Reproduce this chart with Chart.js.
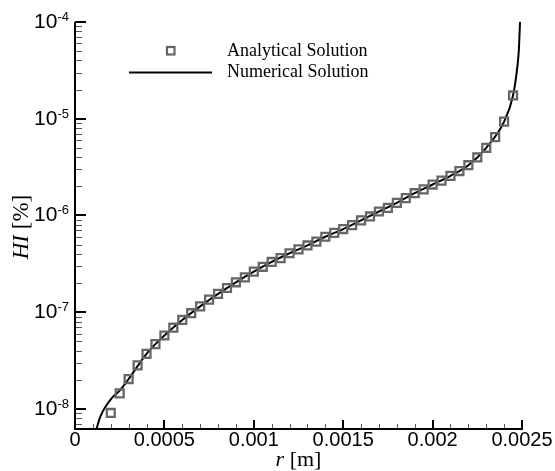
<!DOCTYPE html>
<html>
<head>
<meta charset="utf-8">
<script src="https://cdn.jsdelivr.net/npm/chart.js@4/dist/chart.umd.min.js"></script>
<style>
	body { margin: 0; background: #fff; }
	canvas { display: block; }
</style>
</head>
<body>
<canvas id="chart" width="555" height="471"></canvas>
<script>
// analytical solution
const analyticR = [
	0.0002, 0.00025, 0.0003, 0.00035, 0.0004, 0.00045, 0.0005, 0.00055, 0.0006, 0.00065,
	0.0007, 0.00075, 0.0008, 0.00085, 0.0009, 0.00095, 0.001, 0.00105, 0.0011, 0.00115,
	0.0012, 0.00125, 0.0013, 0.00135, 0.0014, 0.00145, 0.0015, 0.00155, 0.0016, 0.00165,
	0.0017, 0.00175, 0.0018, 0.00185, 0.0019, 0.00195, 0.002, 0.00205, 0.0021, 0.00215,
	0.0022, 0.00225, 0.0023, 0.00235, 0.0024, 0.00245
];
const analyticH = [
	9.1e-9, 1.45e-8, 2.04e-8, 2.82e-8, 3.72e-8, 4.68e-8, 5.75e-8, 6.92e-8, 8.32e-8, 9.77e-8,
	1.15e-7, 1.35e-7, 1.55e-7, 1.78e-7, 2.04e-7, 2.29e-7, 2.63e-7, 2.95e-7, 3.31e-7, 3.63e-7,
	4.07e-7, 4.47e-7, 4.90e-7, 5.37e-7, 6.03e-7, 6.61e-7, 7.24e-7, 7.94e-7, 8.91e-7, 9.77e-7,
	1.10e-6, 1.20e-6, 1.35e-6, 1.51e-6, 1.70e-6, 1.86e-6, 2.09e-6, 2.29e-6, 2.57e-6, 2.88e-6,
	3.31e-6, 3.98e-6, 5.01e-6, 6.46e-6, 9.33e-6, 1.74e-5
];

// numerical solution
const numericR = [
	0.00012, 0.00014, 0.00017, 0.0002, 0.00025, 0.0003, 0.0004, 0.0005, 0.0006, 0.0007,
	0.0008, 0.0009, 0.001, 0.0011, 0.0012, 0.0013, 0.0014, 0.0015, 0.0016, 0.0017,
	0.0018, 0.0019, 0.002, 0.0021, 0.0022, 0.0023, 0.0024, 0.00245, 0.00247, 0.002482, 0.002489
];
const numericH = [
	6.2e-9, 8.2e-9, 1.05e-8, 1.26e-8, 1.55e-8, 2.04e-8, 3.72e-8, 5.75e-8, 8.32e-8, 1.15e-7,
	1.55e-7, 2.04e-7, 2.63e-7, 3.31e-7, 4.07e-7, 4.90e-7, 6.03e-7, 7.24e-7, 8.91e-7, 1.10e-6,
	1.35e-6, 1.70e-6, 2.09e-6, 2.57e-6, 3.31e-6, 5.01e-6, 9.33e-6, 1.74e-5, 3.0e-5, 5.0e-5, 1.0e-4
];

const xTickVals = [0, 0.0005, 0.001, 0.0015, 0.002, 0.0025];
const xTickLabels = ["0", "0.0005", "0.001", "0.0015", "0.002", "0.0025"];
const yTickExps = [-8, -7, -6, -5, -4];
const yTickLabels = ["-8", "-7", "-6", "-5", "-4"];

const MARKER_GREY = "#666";

function pairs(xs, ys) {
	return xs.map((x, i) => ({x: x, y: ys[i]}));
}

// axes, inward ticks, labels and legend drawn on top using the chart scales
const axesPlugin = {
	id: "tecAxes",
	afterDraw(chart) {
		let ctx = chart.ctx;
		let a = chart.chartArea;
		let xs = chart.scales.x;
		let ys = chart.scales.y;

		ctx.save();

		// minor ticks
		ctx.lineWidth = 1;
		ctx.strokeStyle = "#555";
		ctx.beginPath();
		for (let e = -9; e <= -5; e++) {
			for (let m = 2; m <= 9; m++) {
				let v = m * Math.pow(10, e);
				if (v < ys.min || v > ys.max) continue;
				let py = Math.round(ys.getPixelForValue(v)) + 0.5;
				ctx.moveTo(a.left, py);
				ctx.lineTo(a.left + 7, py);
			}
		}
		for (let k = 1; k < 25; k++) {
			if (k % 5 === 0) continue;
			let px = Math.round(xs.getPixelForValue(k * 0.0001)) + 0.5;
			ctx.moveTo(px, a.bottom);
			ctx.lineTo(px, a.bottom - 5);
		}
		ctx.stroke();

		// major ticks and axis lines
		ctx.strokeStyle = "#000";
		ctx.lineWidth = 2;
		ctx.beginPath();
		for (let e of yTickExps) {
			let py = Math.round(ys.getPixelForValue(Math.pow(10, e)));
			ctx.moveTo(a.left, py);
			ctx.lineTo(a.left + 11, py);
		}
		for (let v of xTickVals) {
			let px = Math.round(xs.getPixelForValue(v));
			ctx.moveTo(px, a.bottom);
			ctx.lineTo(px, a.bottom - 9);
		}
		ctx.moveTo(a.left, a.top);
		ctx.lineTo(a.left, a.bottom);
		ctx.lineTo(a.right + 1, a.bottom);
		ctx.stroke();

		// x tick labels
		ctx.fillStyle = "#000";
		ctx.font = "20px 'Liberation Sans', Arial, sans-serif";
		ctx.textAlign = "center";
		ctx.textBaseline = "middle";
		xTickVals.forEach((v, i) => {
			ctx.fillText(xTickLabels[i], xs.getPixelForValue(v), a.bottom + 11);
		});

		// y tick labels: 10 with superscript exponent
		yTickExps.forEach((e, i) => {
			let py = ys.getPixelForValue(Math.pow(10, e));
			let right = 69;
			ctx.font = "13px 'Liberation Sans', Arial, sans-serif";
			ctx.textAlign = "right";
			ctx.textBaseline = "alphabetic";
			let w = ctx.measureText(yTickLabels[i]).width;
			ctx.fillText(yTickLabels[i], right, py - 1);
			ctx.font = "21px 'Liberation Sans', Arial, sans-serif";
			ctx.textBaseline = "middle";
			ctx.fillText("10", right - w, py);
		});

		// axis titles
		ctx.textBaseline = "middle";
		ctx.textAlign = "left";
		let tx = "r";
		let rest = " [m]";
		ctx.font = "italic 22px 'Liberation Serif', 'Times New Roman', serif";
		let w1 = ctx.measureText(tx).width;
		ctx.font = "22px 'Liberation Serif', 'Times New Roman', serif";
		let w2 = ctx.measureText(rest).width;
		let cx = (a.left + a.right) / 2 - (w1 + w2) / 2;
		ctx.font = "italic 22px 'Liberation Serif', 'Times New Roman', serif";
		ctx.fillText(tx, cx, 460);
		ctx.font = "22px 'Liberation Serif', 'Times New Roman', serif";
		ctx.fillText(rest, cx + w1, 460);

		ctx.save();
		ctx.translate(22, 227);
		ctx.rotate(-Math.PI / 2);
		ctx.font = "italic 23px 'Liberation Serif', 'Times New Roman', serif";
		let h1 = "HI";
		let h2 = " [%]";
		let wa = ctx.measureText(h1).width;
		ctx.font = "23px 'Liberation Serif', 'Times New Roman', serif";
		let wb = ctx.measureText(h2).width;
		let sx = -(wa + wb) / 2;
		ctx.font = "italic 23px 'Liberation Serif', 'Times New Roman', serif";
		ctx.fillText(h1, sx, 0);
		ctx.font = "23px 'Liberation Serif', 'Times New Roman', serif";
		ctx.fillText(h2, sx + wa, 0);
		ctx.restore();

		// legend
		ctx.strokeStyle = MARKER_GREY;
		ctx.lineWidth = 2.2;
		ctx.strokeRect(167, 47, 7.5, 7.5);
		ctx.strokeStyle = "#000";
		ctx.lineWidth = 2;
		ctx.beginPath();
		ctx.moveTo(129, 72.5);
		ctx.lineTo(212, 72.5);
		ctx.stroke();
		ctx.font = "18px 'Liberation Serif', 'Times New Roman', serif";
		ctx.textAlign = "left";
		ctx.textBaseline = "alphabetic";
		ctx.fillText("Analytical Solution", 227, 56);
		ctx.fillText("Numerical Solution", 227, 77);

		ctx.restore();
	}
};

new Chart(document.getElementById("chart"), {
	type: "scatter",
	data: {
		datasets: [{
			label: "Analytical Solution",
			data: pairs(analyticR, analyticH),
			pointStyle: "rect",
			pointRadius: 5.6,
			pointBorderWidth: 2.3,
			pointBorderColor: MARKER_GREY,
			pointBackgroundColor: "rgba(0,0,0,0)",
			showLine: false
		}, {
			label: "Numerical Solution",
			data: pairs(numericR, numericH),
			showLine: true,
			borderColor: "#000",
			borderWidth: 2,
			pointRadius: 0,
			cubicInterpolationMode: "monotone"
		}]
	},
	options: {
		responsive: false,
		animation: false,
		devicePixelRatio: 1,
		layout: {
			padding: {left: 75, right: 33, top: 22, bottom: 42}
		},
		plugins: {
			legend: {display: false},
			tooltip: {enabled: false}
		},
		scales: {
			x: {
				type: "linear",
				display: false,
				min: 0,
				max: 0.0025
			},
			y: {
				type: "logarithmic",
				display: false,
				min: 6.21e-9,
				max: 1e-4
			}
		}
	},
	plugins: [axesPlugin]
});
</script>
</body>
</html>
